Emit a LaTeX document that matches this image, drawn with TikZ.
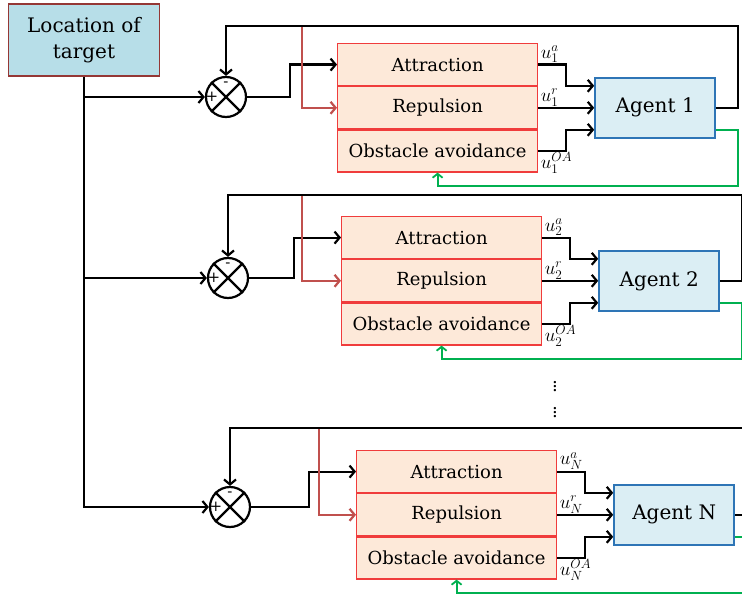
\RequirePackage{fix-cm}
\documentclass[tikz,border=0pt]{standalone}
\usepackage{amsmath}
\usepackage{fontspec}
\setmainfont{DejaVu Serif}
\usepackage{tikz}
\usetikzlibrary{arrows.meta}

\definecolor{targetfill}{HTML}{B7DEE8}
\definecolor{targetline}{HTML}{953735}
\definecolor{agentfill}{HTML}{DBEEF4}
\definecolor{agentline}{HTML}{2E75B6}
\definecolor{lawfill}{HTML}{FDE9D9}
\definecolor{lawline}{HTML}{F03C3C}
\definecolor{repline}{HTML}{C0504D}
\definecolor{avoidline}{HTML}{00B050}

\tikzset{
  sig/.style={line width=2.2pt,-{Straight Barb[length=5pt,width=12pt]}},
  redsig/.style={sig,repline},
  avoid/.style={line width=1.8pt,avoidline,-{Straight Barb[length=4pt,width=10pt]}},
  target/.style={draw=targetline,line width=1.8pt,fill=targetfill,minimum width=151pt,
    minimum height=72pt,align=center,font=\fontsize{20}{26}\selectfont},
  law/.style={draw=lawline,line width=1.2pt,fill=lawfill,minimum width=200pt,
    minimum height=42pt,inner sep=0pt,font=\fontsize{18}{21}\selectfont},
  agent/.style={draw=agentline,line width=2pt,fill=agentfill,minimum width=120pt,
    minimum height=60pt,font=\fontsize{20}{23}\selectfont},
  summer/.style={draw,circle,line width=2.2pt,minimum size=40pt,inner sep=0pt},
  lab/.style={inner sep=0.5pt,font=\fontsize{19}{21}\selectfont}
}

\begin{document}
\begin{tikzpicture}[x=1pt,y=-1pt]
\clip (0,0) rectangle (742,594);
% Draw target box
\node[target] (tgt) at (84,40) {Location of\\target};
% Draw dots between agents
\node[font=\fontsize{18}{18}\selectfont] (dots1) at (555,384) {$\vdots$};
\node[font=\fontsize{18}{18}\selectfont] (dots2) at (555,410) {$\vdots$};
% Draw one loop per agent
\foreach \n/\cx/\cy/\bx/\by/\rx/\ty in {1/226/97/337/43/302/26,2/228/278/341/216/302/195,N/230/507/356/450/319/428}{
  % Draw summing junction
  \node[summer] (s\n) at (\cx,\cy) {};
  \draw[line width=2.2pt] (s\n.north west) -- (s\n.south east) (s\n.north east) -- (s\n.south west);
  \node[inner sep=0pt,font=\fontsize{15}{15}\selectfont] (p\n) at ([xshift=7pt]s\n.west) {+};
  \node[inner sep=0pt,font=\fontsize{15}{15}\selectfont] (m\n) at ([yshift=-8pt]s\n.north) {-};
  % Draw control law boxes
  \node[law,anchor=north west] (att\n) at (\bx,\by) {Attraction};
  \node[law,anchor=north] (rep\n) at (att\n.south) {Repulsion};
  \node[law,anchor=north] (obs\n) at (rep\n.south) {Obstacle avoidance};
  % Draw agent
  \node[agent,anchor=west] (ag\n) at ([xshift=56pt]rep\n.east) {Agent \n};
  \coordinate (top\n) at (\rx,\ty);
  % Draw inputs of the boxes
  \draw[sig] (s\n.east) -| ([xshift=-47pt]att\n.west) -- (att\n.west);
  \draw[redsig] (top\n) |- (rep\n.west);
  % Draw outputs of the boxes
  \draw[sig] (att\n.east) -- ++(28,0) |- ([yshift=22pt]ag\n.west);
  \draw[sig] (rep\n.east) -- (ag\n.west);
  \draw[sig] (obs\n.east) -- ++(28,0) |- ([yshift=-22pt]ag\n.west);
  \node[lab,above right] at ([xshift=2pt,yshift=1pt]att\n.east) {$u_\n^a$};
  \node[lab,above right] at ([xshift=2pt,yshift=1pt]rep\n.east) {$u_\n^r$};
  \node[lab,below right] at ([xshift=2pt,yshift=-1pt]obs\n.east) {$u_\n^{OA}$};
  % Draw feedback loops
  \draw[sig] (ag\n.east) -- ++(22,0) |- (\cx,\ty) -- (s\n.north);
  \draw[avoid] ([yshift=-22pt]ag\n.east) -- ++(22,0) |- ([yshift=-13pt]obs\n.south) -- (obs\n.south);
}
% Draw target to junctions
\draw[sig] (tgt.south) |- (sN.west);
\draw[sig] (tgt.south |- s1.west) -- (s1.west);
\draw[sig] (tgt.south |- s2.west) -- (s2.west);
\end{tikzpicture}
\end{document}
